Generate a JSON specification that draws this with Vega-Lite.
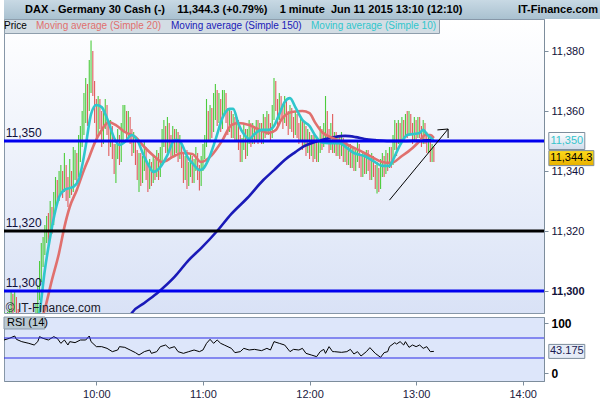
{
  "$schema": "https://vega.github.io/schema/vega-lite/v6.json",
  "description": "DAX 1-minute price bars with moving averages and RSI(14), 11 June 2015.",
  "padding": {"left": 2, "top": 0, "right": 0, "bottom": 0},
  "autosize": {"type": "pad"},
  "background": "#ffffff",
  "spacing": 0,
  "bounds": "flush",
  "config": {
    "font": "Liberation Sans",
    "view": {"stroke": "#8797a8"},
    "axis": {
      "labelFont": "Liberation Sans",
      "labelFontSize": 11,
      "labelColor": "#10103a",
      "tickColor": "#7d8d9c",
      "domainColor": "#7d8d9c",
      "grid": false,
      "title": null,
      "tickSize": 4
    }
  },
  "datasets": {
    "bars": [
      {"t":"09:08","o":11289,"h":11293,"l":11287,"c":11291},
      {"t":"09:09","o":11291,"h":11292,"l":11286,"c":11289},
      {"t":"09:10","o":11289,"h":11293,"l":11287,"c":11290},
      {"t":"09:11","o":11290,"h":11294,"l":11288,"c":11292},
      {"t":"09:12","o":11292,"h":11300,"l":11291,"c":11296},
      {"t":"09:13","o":11296,"h":11299,"l":11292,"c":11294},
      {"t":"09:14","o":11294,"h":11300,"l":11293,"c":11297},
      {"t":"09:15","o":11297,"h":11298,"l":11291,"c":11293},
      {"t":"09:16","o":11293,"h":11294,"l":11287,"c":11289},
      {"t":"09:17","o":11289,"h":11290,"l":11285,"c":11287},
      {"t":"09:18","o":11287,"h":11288,"l":11283,"c":11285},
      {"t":"09:19","o":11285,"h":11288,"l":11284,"c":11286},
      {"t":"09:20","o":11286,"h":11287,"l":11282,"c":11284},
      {"t":"09:21","o":11284,"h":11288,"l":11283,"c":11286},
      {"t":"09:22","o":11286,"h":11290,"l":11285,"c":11288},
      {"t":"09:23","o":11288,"h":11290,"l":11286,"c":11287},
      {"t":"09:24","o":11287,"h":11291,"l":11286,"c":11289},
      {"t":"09:25","o":11289,"h":11292,"l":11288,"c":11290},
      {"t":"09:26","o":11290,"h":11296,"l":11289,"c":11293},
      {"t":"09:27","o":11293,"h":11302,"l":11292,"c":11298},
      {"t":"09:28","o":11298,"h":11310,"l":11297,"c":11305},
      {"t":"09:29","o":11305,"h":11316,"l":11303,"c":11310},
      {"t":"09:30","o":11310,"h":11318,"l":11308,"c":11314},
      {"t":"09:31","o":11314,"h":11322,"l":11312,"c":11318},
      {"t":"09:32","o":11318,"h":11325,"l":11316,"c":11322},
      {"t":"09:33","o":11322,"h":11326,"l":11315,"c":11320},
      {"t":"09:34","o":11320,"h":11330,"l":11318,"c":11326},
      {"t":"09:35","o":11326,"h":11328,"l":11319,"c":11324},
      {"t":"09:36","o":11324,"h":11333,"l":11322,"c":11330},
      {"t":"09:37","o":11330,"h":11338,"l":11328,"c":11334},
      {"t":"09:38","o":11334,"h":11337,"l":11329,"c":11332},
      {"t":"09:39","o":11332,"h":11340,"l":11330,"c":11336},
      {"t":"09:40","o":11336,"h":11342,"l":11333,"c":11338},
      {"t":"09:41","o":11338,"h":11340,"l":11331,"c":11335},
      {"t":"09:42","o":11335,"h":11346,"l":11333,"c":11340},
      {"t":"09:43","o":11340,"h":11342,"l":11330,"c":11336},
      {"t":"09:44","o":11336,"h":11338,"l":11328,"c":11333},
      {"t":"09:45","o":11333,"h":11344,"l":11331,"c":11338},
      {"t":"09:46","o":11338,"h":11340,"l":11332,"c":11335},
      {"t":"09:47","o":11335,"h":11348,"l":11333,"c":11340},
      {"t":"09:48","o":11340,"h":11347,"l":11337,"c":11343},
      {"t":"09:49","o":11343,"h":11346,"l":11336,"c":11340},
      {"t":"09:50","o":11340,"h":11352,"l":11338,"c":11347},
      {"t":"09:51","o":11347,"h":11355,"l":11343,"c":11350},
      {"t":"09:52","o":11350,"h":11360,"l":11348,"c":11355},
      {"t":"09:53","o":11355,"h":11366,"l":11352,"c":11360},
      {"t":"09:54","o":11360,"h":11371,"l":11356,"c":11366},
      {"t":"09:55","o":11366,"h":11369,"l":11355,"c":11362},
      {"t":"09:56","o":11362,"h":11377,"l":11360,"c":11370},
      {"t":"09:57","o":11370,"h":11383.5,"l":11366,"c":11378},
      {"t":"09:58","o":11378,"h":11380,"l":11365,"c":11368},
      {"t":"09:59","o":11368,"h":11370,"l":11356,"c":11360},
      {"t":"10:00","o":11360,"h":11364,"l":11350,"c":11356},
      {"t":"10:01","o":11356,"h":11365,"l":11352,"c":11362},
      {"t":"10:02","o":11362,"h":11364,"l":11354,"c":11358},
      {"t":"10:03","o":11358,"h":11360,"l":11348,"c":11352},
      {"t":"10:04","o":11352,"h":11360,"l":11349,"c":11356},
      {"t":"10:05","o":11356,"h":11364,"l":11354,"c":11360},
      {"t":"10:06","o":11360,"h":11362,"l":11352,"c":11355},
      {"t":"10:07","o":11355,"h":11357,"l":11345,"c":11350},
      {"t":"10:08","o":11350,"h":11357,"l":11348,"c":11353},
      {"t":"10:09","o":11353,"h":11355,"l":11344,"c":11347},
      {"t":"10:10","o":11347,"h":11349,"l":11339,"c":11342},
      {"t":"10:11","o":11342,"h":11349,"l":11336,"c":11346},
      {"t":"10:12","o":11346,"h":11354,"l":11344,"c":11350},
      {"t":"10:13","o":11350,"h":11352,"l":11342,"c":11345},
      {"t":"10:14","o":11345,"h":11356,"l":11343,"c":11352},
      {"t":"10:15","o":11352,"h":11362,"l":11350,"c":11356},
      {"t":"10:16","o":11356,"h":11362,"l":11353,"c":11358},
      {"t":"10:17","o":11358,"h":11360,"l":11350,"c":11353},
      {"t":"10:18","o":11353,"h":11360,"l":11351,"c":11357},
      {"t":"10:19","o":11357,"h":11358,"l":11349,"c":11352},
      {"t":"10:20","o":11352,"h":11354,"l":11345,"c":11348},
      {"t":"10:21","o":11348,"h":11353,"l":11346,"c":11350},
      {"t":"10:22","o":11350,"h":11351,"l":11342,"c":11345},
      {"t":"10:23","o":11345,"h":11347,"l":11337,"c":11340},
      {"t":"10:24","o":11340,"h":11346,"l":11333,"c":11344},
      {"t":"10:25","o":11344,"h":11346,"l":11335,"c":11338},
      {"t":"10:26","o":11338,"h":11345,"l":11336,"c":11342},
      {"t":"10:27","o":11342,"h":11350,"l":11340,"c":11346},
      {"t":"10:28","o":11346,"h":11348,"l":11337,"c":11340},
      {"t":"10:29","o":11340,"h":11342,"l":11333,"c":11336},
      {"t":"10:30","o":11336,"h":11344,"l":11334,"c":11341},
      {"t":"10:31","o":11341,"h":11343,"l":11335,"c":11338},
      {"t":"10:32","o":11338,"h":11345,"l":11336,"c":11342},
      {"t":"10:33","o":11342,"h":11344,"l":11337,"c":11340},
      {"t":"10:34","o":11340,"h":11347,"l":11338,"c":11344},
      {"t":"10:35","o":11344,"h":11346,"l":11337,"c":11339},
      {"t":"10:36","o":11339,"h":11348,"l":11338,"c":11345},
      {"t":"10:37","o":11345,"h":11354,"l":11343,"c":11350},
      {"t":"10:38","o":11350,"h":11357,"l":11348,"c":11352},
      {"t":"10:39","o":11352,"h":11355,"l":11346,"c":11348},
      {"t":"10:40","o":11348,"h":11358,"l":11346,"c":11354},
      {"t":"10:41","o":11354,"h":11356,"l":11347,"c":11350},
      {"t":"10:42","o":11350,"h":11352,"l":11344,"c":11347},
      {"t":"10:43","o":11347,"h":11355,"l":11345,"c":11352},
      {"t":"10:44","o":11352,"h":11354,"l":11345,"c":11348},
      {"t":"10:45","o":11348,"h":11354,"l":11346,"c":11351},
      {"t":"10:46","o":11351,"h":11353,"l":11343,"c":11346},
      {"t":"10:47","o":11346,"h":11352,"l":11344,"c":11349},
      {"t":"10:48","o":11349,"h":11350,"l":11341,"c":11344},
      {"t":"10:49","o":11344,"h":11346,"l":11336,"c":11339},
      {"t":"10:50","o":11339,"h":11345,"l":11337,"c":11342},
      {"t":"10:51","o":11342,"h":11347,"l":11334,"c":11337},
      {"t":"10:52","o":11337,"h":11343,"l":11335,"c":11340},
      {"t":"10:53","o":11340,"h":11346,"l":11338,"c":11343},
      {"t":"10:54","o":11343,"h":11345,"l":11336,"c":11338},
      {"t":"10:55","o":11338,"h":11344,"l":11336,"c":11342},
      {"t":"10:56","o":11342,"h":11348,"l":11340,"c":11345},
      {"t":"10:57","o":11345,"h":11346,"l":11337,"c":11340},
      {"t":"10:58","o":11340,"h":11342,"l":11333.5,"c":11337},
      {"t":"10:59","o":11337,"h":11345,"l":11335,"c":11342},
      {"t":"11:00","o":11342,"h":11349,"l":11340,"c":11346},
      {"t":"11:01","o":11346,"h":11352,"l":11344,"c":11349},
      {"t":"11:02","o":11349,"h":11364,"l":11348,"c":11355},
      {"t":"11:03","o":11355,"h":11360,"l":11350,"c":11352},
      {"t":"11:04","o":11352,"h":11362,"l":11350,"c":11358},
      {"t":"11:05","o":11358,"h":11361,"l":11351,"c":11354},
      {"t":"11:06","o":11354,"h":11366,"l":11353,"c":11360},
      {"t":"11:07","o":11360,"h":11369,"l":11357,"c":11365},
      {"t":"11:08","o":11365,"h":11367,"l":11355,"c":11358},
      {"t":"11:09","o":11358,"h":11366,"l":11356,"c":11362},
      {"t":"11:10","o":11362,"h":11364,"l":11353,"c":11356},
      {"t":"11:11","o":11356,"h":11367,"l":11354,"c":11361},
      {"t":"11:12","o":11361,"h":11367,"l":11359,"c":11364},
      {"t":"11:13","o":11364,"h":11366,"l":11356,"c":11359},
      {"t":"11:14","o":11359,"h":11361,"l":11352,"c":11355},
      {"t":"11:15","o":11355,"h":11361,"l":11353,"c":11358},
      {"t":"11:16","o":11358,"h":11360,"l":11351,"c":11353},
      {"t":"11:17","o":11353,"h":11359,"l":11351,"c":11356},
      {"t":"11:18","o":11356,"h":11358,"l":11350,"c":11352},
      {"t":"11:19","o":11352,"h":11358,"l":11350,"c":11355},
      {"t":"11:20","o":11355,"h":11357,"l":11347,"c":11350},
      {"t":"11:21","o":11350,"h":11352,"l":11343,"c":11346},
      {"t":"11:22","o":11346,"h":11351,"l":11343,"c":11349},
      {"t":"11:23","o":11349,"h":11356,"l":11347,"c":11352},
      {"t":"11:24","o":11352,"h":11354,"l":11344,"c":11347},
      {"t":"11:25","o":11347,"h":11354,"l":11345,"c":11351},
      {"t":"11:26","o":11351,"h":11357,"l":11349,"c":11354},
      {"t":"11:27","o":11354,"h":11356,"l":11348,"c":11350},
      {"t":"11:28","o":11350,"h":11356,"l":11349,"c":11353},
      {"t":"11:29","o":11353,"h":11355,"l":11349,"c":11351},
      {"t":"11:30","o":11351,"h":11357,"l":11350,"c":11355},
      {"t":"11:31","o":11355,"h":11357,"l":11349,"c":11352},
      {"t":"11:32","o":11352,"h":11356,"l":11350,"c":11354},
      {"t":"11:33","o":11354,"h":11356,"l":11349,"c":11350},
      {"t":"11:34","o":11350,"h":11359,"l":11349,"c":11356},
      {"t":"11:35","o":11356,"h":11358,"l":11351,"c":11353},
      {"t":"11:36","o":11353,"h":11360,"l":11352,"c":11357},
      {"t":"11:37","o":11357,"h":11359,"l":11352,"c":11354},
      {"t":"11:38","o":11354,"h":11356,"l":11350,"c":11352},
      {"t":"11:39","o":11352,"h":11362,"l":11351,"c":11358},
      {"t":"11:40","o":11358,"h":11371,"l":11357,"c":11366},
      {"t":"11:41","o":11366,"h":11370,"l":11360,"c":11362},
      {"t":"11:42","o":11362,"h":11364,"l":11355,"c":11358},
      {"t":"11:43","o":11358,"h":11366,"l":11357,"c":11363},
      {"t":"11:44","o":11363,"h":11365,"l":11357,"c":11360},
      {"t":"11:45","o":11360,"h":11362,"l":11354,"c":11357},
      {"t":"11:46","o":11357,"h":11365,"l":11356,"c":11362},
      {"t":"11:47","o":11362,"h":11364,"l":11355,"c":11358},
      {"t":"11:48","o":11358,"h":11360,"l":11352,"c":11355},
      {"t":"11:49","o":11355,"h":11362,"l":11354,"c":11359},
      {"t":"11:50","o":11359,"h":11361,"l":11353,"c":11356},
      {"t":"11:51","o":11356,"h":11358,"l":11351,"c":11353},
      {"t":"11:52","o":11353,"h":11360,"l":11352,"c":11357},
      {"t":"11:53","o":11357,"h":11359,"l":11351,"c":11354},
      {"t":"11:54","o":11354,"h":11356,"l":11349,"c":11351},
      {"t":"11:55","o":11351,"h":11358,"l":11350,"c":11355},
      {"t":"11:56","o":11355,"h":11357,"l":11347,"c":11350},
      {"t":"11:57","o":11350,"h":11356,"l":11348,"c":11353},
      {"t":"11:58","o":11353,"h":11355,"l":11345,"c":11348},
      {"t":"11:59","o":11348,"h":11354,"l":11346,"c":11351},
      {"t":"12:00","o":11351,"h":11353,"l":11344,"c":11347},
      {"t":"12:01","o":11347,"h":11352,"l":11345,"c":11350},
      {"t":"12:02","o":11350,"h":11352,"l":11343,"c":11346},
      {"t":"12:03","o":11346,"h":11352,"l":11344,"c":11349},
      {"t":"12:04","o":11349,"h":11351,"l":11343,"c":11345},
      {"t":"12:05","o":11345,"h":11350,"l":11343,"c":11348},
      {"t":"12:06","o":11348,"h":11355,"l":11346,"c":11352},
      {"t":"12:07","o":11352,"h":11354,"l":11347,"c":11349},
      {"t":"12:08","o":11349,"h":11356,"l":11348,"c":11353},
      {"t":"12:09","o":11353,"h":11365,"l":11351,"c":11358},
      {"t":"12:10","o":11358,"h":11360,"l":11350,"c":11352},
      {"t":"12:11","o":11352,"h":11354,"l":11346,"c":11349},
      {"t":"12:12","o":11349,"h":11356,"l":11347,"c":11353},
      {"t":"12:13","o":11353,"h":11359,"l":11346,"c":11348},
      {"t":"12:14","o":11348,"h":11353,"l":11346,"c":11351},
      {"t":"12:15","o":11351,"h":11353,"l":11345,"c":11347},
      {"t":"12:16","o":11347,"h":11352,"l":11345,"c":11350},
      {"t":"12:17","o":11350,"h":11352,"l":11344,"c":11346},
      {"t":"12:18","o":11346,"h":11353,"l":11345,"c":11349},
      {"t":"12:19","o":11349,"h":11351,"l":11343,"c":11345},
      {"t":"12:20","o":11345,"h":11350,"l":11343,"c":11348},
      {"t":"12:21","o":11348,"h":11350,"l":11342,"c":11344},
      {"t":"12:22","o":11344,"h":11349,"l":11342,"c":11347},
      {"t":"12:23","o":11347,"h":11349,"l":11341,"c":11343},
      {"t":"12:24","o":11343,"h":11348,"l":11341,"c":11346},
      {"t":"12:25","o":11346,"h":11348,"l":11340,"c":11342},
      {"t":"12:26","o":11342,"h":11347,"l":11340,"c":11345},
      {"t":"12:27","o":11345,"h":11350,"l":11343,"c":11347},
      {"t":"12:28","o":11347,"h":11349,"l":11341,"c":11343},
      {"t":"12:29","o":11343,"h":11345,"l":11338,"c":11340},
      {"t":"12:30","o":11340,"h":11346,"l":11338,"c":11344},
      {"t":"12:31","o":11344,"h":11346,"l":11339,"c":11341},
      {"t":"12:32","o":11341,"h":11347,"l":11339,"c":11345},
      {"t":"12:33","o":11345,"h":11347,"l":11340,"c":11342},
      {"t":"12:34","o":11342,"h":11344,"l":11337,"c":11339},
      {"t":"12:35","o":11339,"h":11346,"l":11337,"c":11343},
      {"t":"12:36","o":11343,"h":11345,"l":11338,"c":11340},
      {"t":"12:37","o":11340,"h":11342,"l":11334,"c":11336},
      {"t":"12:38","o":11336,"h":11343,"l":11332.5,"c":11339},
      {"t":"12:39","o":11339,"h":11341,"l":11333,"c":11335},
      {"t":"12:40","o":11335,"h":11344,"l":11334,"c":11340},
      {"t":"12:41","o":11340,"h":11346,"l":11338,"c":11343},
      {"t":"12:42","o":11343,"h":11345,"l":11338,"c":11340},
      {"t":"12:43","o":11340,"h":11347,"l":11339,"c":11344},
      {"t":"12:44","o":11344,"h":11346,"l":11340,"c":11342},
      {"t":"12:45","o":11342,"h":11348,"l":11341,"c":11346},
      {"t":"12:46","o":11346,"h":11348,"l":11341,"c":11343},
      {"t":"12:47","o":11343,"h":11352,"l":11342,"c":11349},
      {"t":"12:48","o":11349,"h":11357,"l":11347,"c":11353},
      {"t":"12:49","o":11353,"h":11356,"l":11345,"c":11350},
      {"t":"12:50","o":11350,"h":11357,"l":11349,"c":11354},
      {"t":"12:51","o":11354,"h":11356,"l":11349,"c":11351},
      {"t":"12:52","o":11351,"h":11358,"l":11350,"c":11355},
      {"t":"12:53","o":11355,"h":11357,"l":11350,"c":11352},
      {"t":"12:54","o":11352,"h":11359,"l":11351,"c":11356},
      {"t":"12:55","o":11356,"h":11360,"l":11351,"c":11353},
      {"t":"12:56","o":11353,"h":11360,"l":11352,"c":11357},
      {"t":"12:57","o":11357,"h":11359,"l":11352,"c":11354},
      {"t":"12:58","o":11354,"h":11356,"l":11349,"c":11351},
      {"t":"12:59","o":11351,"h":11358,"l":11350,"c":11355},
      {"t":"13:00","o":11355,"h":11357,"l":11350,"c":11352},
      {"t":"13:01","o":11352,"h":11358,"l":11351,"c":11356},
      {"t":"13:02","o":11356,"h":11358,"l":11351,"c":11353},
      {"t":"13:03","o":11353,"h":11355,"l":11348,"c":11350},
      {"t":"13:04","o":11350,"h":11357,"l":11349,"c":11354},
      {"t":"13:05","o":11354,"h":11356,"l":11349,"c":11351},
      {"t":"13:06","o":11351,"h":11353,"l":11346,"c":11348},
      {"t":"13:07","o":11348,"h":11352,"l":11346,"c":11350},
      {"t":"13:08","o":11350,"h":11351,"l":11343,"c":11346},
      {"t":"13:09","o":11346,"h":11349,"l":11343,"c":11347},
      {"t":"13:10","o":11347,"h":11348,"l":11343,"c":11344.3}
    ],
    "ma": [
      {"s":"ma150","t":"10:18","v":11290},
      {"s":"ma150","t":"10:20","v":11292.7},
      {"s":"ma150","t":"10:27","v":11296},
      {"s":"ma150","t":"10:35","v":11299.7},
      {"s":"ma150","t":"10:44","v":11304.7},
      {"s":"ma150","t":"10:52","v":11310.3},
      {"s":"ma150","t":"10:59","v":11314.3},
      {"s":"ma150","t":"11:08","v":11320},
      {"s":"ma150","t":"11:16","v":11325.7},
      {"s":"ma150","t":"11:25","v":11331},
      {"s":"ma150","t":"11:34","v":11337},
      {"s":"ma150","t":"11:40","v":11340.3},
      {"s":"ma150","t":"11:46","v":11343.7},
      {"s":"ma150","t":"11:52","v":11346.3},
      {"s":"ma150","t":"11:57","v":11348.3},
      {"s":"ma150","t":"12:03","v":11349.7},
      {"s":"ma150","t":"12:09","v":11350.7},
      {"s":"ma150","t":"12:14","v":11351.3},
      {"s":"ma150","t":"12:20","v":11351.7},
      {"s":"ma150","t":"12:26","v":11351.3},
      {"s":"ma150","t":"12:31","v":11350.7},
      {"s":"ma150","t":"12:37","v":11350.3},
      {"s":"ma150","t":"12:45","v":11350},
      {"s":"ma150","t":"12:52","v":11350},
      {"s":"ma150","t":"13:00","v":11350.1},
      {"s":"ma150","t":"13:10","v":11350.3},
      {"s":"ma20","t":"09:29","v":11290},
      {"s":"ma20","t":"09:31","v":11294},
      {"s":"ma20","t":"09:35","v":11303.7},
      {"s":"ma20","t":"09:39","v":11312.7},
      {"s":"ma20","t":"09:42","v":11321.3},
      {"s":"ma20","t":"09:45","v":11328},
      {"s":"ma20","t":"09:49","v":11333.7},
      {"s":"ma20","t":"09:53","v":11340.3},
      {"s":"ma20","t":"09:56","v":11344.7},
      {"s":"ma20","t":"09:59","v":11349.3},
      {"s":"ma20","t":"10:03","v":11353.7},
      {"s":"ma20","t":"10:07","v":11356.3},
      {"s":"ma20","t":"10:11","v":11355.3},
      {"s":"ma20","t":"10:16","v":11353},
      {"s":"ma20","t":"10:22","v":11351.3},
      {"s":"ma20","t":"10:27","v":11348},
      {"s":"ma20","t":"10:33","v":11344.7},
      {"s":"ma20","t":"10:37","v":11343},
      {"s":"ma20","t":"10:43","v":11344.7},
      {"s":"ma20","t":"10:48","v":11346},
      {"s":"ma20","t":"10:54","v":11345.7},
      {"s":"ma20","t":"10:59","v":11343},
      {"s":"ma20","t":"11:05","v":11345.3},
      {"s":"ma20","t":"11:11","v":11350.3},
      {"s":"ma20","t":"11:16","v":11355.3},
      {"s":"ma20","t":"11:20","v":11356},
      {"s":"ma20","t":"11:26","v":11355.3},
      {"s":"ma20","t":"11:32","v":11353.7},
      {"s":"ma20","t":"11:37","v":11352.7},
      {"s":"ma20","t":"11:41","v":11353.7},
      {"s":"ma20","t":"11:44","v":11357},
      {"s":"ma20","t":"11:50","v":11359.7},
      {"s":"ma20","t":"11:56","v":11360},
      {"s":"ma20","t":"12:00","v":11359.3},
      {"s":"ma20","t":"12:03","v":11356.3},
      {"s":"ma20","t":"12:07","v":11353},
      {"s":"ma20","t":"12:13","v":11351},
      {"s":"ma20","t":"12:18","v":11349.7},
      {"s":"ma20","t":"12:24","v":11348},
      {"s":"ma20","t":"12:30","v":11346.3},
      {"s":"ma20","t":"12:35","v":11344.7},
      {"s":"ma20","t":"12:41","v":11343},
      {"s":"ma20","t":"12:46","v":11342.7},
      {"s":"ma20","t":"12:52","v":11345},
      {"s":"ma20","t":"12:58","v":11347.7},
      {"s":"ma20","t":"13:02","v":11350},
      {"s":"ma20","t":"13:05","v":11352},
      {"s":"ma20","t":"13:08","v":11352},
      {"s":"ma20","t":"13:10","v":11351},
      {"s":"ma10","t":"09:26","v":11289},
      {"s":"ma10","t":"09:28","v":11293},
      {"s":"ma10","t":"09:31","v":11307},
      {"s":"ma10","t":"09:34","v":11318},
      {"s":"ma10","t":"09:37","v":11327},
      {"s":"ma10","t":"09:39","v":11331.3},
      {"s":"ma10","t":"09:42","v":11333.7},
      {"s":"ma10","t":"09:45","v":11334.3},
      {"s":"ma10","t":"09:47","v":11334.7},
      {"s":"ma10","t":"09:50","v":11337},
      {"s":"ma10","t":"09:54","v":11348.3},
      {"s":"ma10","t":"09:56","v":11356},
      {"s":"ma10","t":"09:57","v":11359},
      {"s":"ma10","t":"10:00","v":11362},
      {"s":"ma10","t":"10:03","v":11361.3},
      {"s":"ma10","t":"10:05","v":11359},
      {"s":"ma10","t":"10:07","v":11356},
      {"s":"ma10","t":"10:10","v":11351},
      {"s":"ma10","t":"10:13","v":11348.7},
      {"s":"ma10","t":"10:16","v":11349.7},
      {"s":"ma10","t":"10:20","v":11352},
      {"s":"ma10","t":"10:23","v":11350.3},
      {"s":"ma10","t":"10:27","v":11344.7},
      {"s":"ma10","t":"10:30","v":11341.3},
      {"s":"ma10","t":"10:32","v":11339.7},
      {"s":"ma10","t":"10:36","v":11341.3},
      {"s":"ma10","t":"10:40","v":11345.3},
      {"s":"ma10","t":"10:44","v":11350.3},
      {"s":"ma10","t":"10:46","v":11350.3},
      {"s":"ma10","t":"10:48","v":11349},
      {"s":"ma10","t":"10:51","v":11345},
      {"s":"ma10","t":"10:55","v":11342},
      {"s":"ma10","t":"10:58","v":11340.3},
      {"s":"ma10","t":"11:00","v":11340.7},
      {"s":"ma10","t":"11:03","v":11343.7},
      {"s":"ma10","t":"11:07","v":11350.3},
      {"s":"ma10","t":"11:11","v":11357.7},
      {"s":"ma10","t":"11:15","v":11360.7},
      {"s":"ma10","t":"11:17","v":11360.7},
      {"s":"ma10","t":"11:20","v":11355.7},
      {"s":"ma10","t":"11:23","v":11352.3},
      {"s":"ma10","t":"11:26","v":11350.7},
      {"s":"ma10","t":"11:29","v":11352.3},
      {"s":"ma10","t":"11:33","v":11353.7},
      {"s":"ma10","t":"11:37","v":11353.7},
      {"s":"ma10","t":"11:40","v":11355},
      {"s":"ma10","t":"11:43","v":11359},
      {"s":"ma10","t":"11:46","v":11363},
      {"s":"ma10","t":"11:49","v":11364.3},
      {"s":"ma10","t":"11:52","v":11361.3},
      {"s":"ma10","t":"11:56","v":11357},
      {"s":"ma10","t":"12:00","v":11355},
      {"s":"ma10","t":"12:03","v":11352},
      {"s":"ma10","t":"12:07","v":11349.5},
      {"s":"ma10","t":"12:11","v":11349.3},
      {"s":"ma10","t":"12:17","v":11349.3},
      {"s":"ma10","t":"12:21","v":11347.7},
      {"s":"ma10","t":"12:25","v":11346},
      {"s":"ma10","t":"12:31","v":11345},
      {"s":"ma10","t":"12:36","v":11343.3},
      {"s":"ma10","t":"12:41","v":11341.7},
      {"s":"ma10","t":"12:45","v":11341.7},
      {"s":"ma10","t":"12:46","v":11342.5},
      {"s":"ma10","t":"12:49","v":11346.3},
      {"s":"ma10","t":"12:52","v":11349.7},
      {"s":"ma10","t":"12:55","v":11352},
      {"s":"ma10","t":"12:58","v":11352.3},
      {"s":"ma10","t":"13:02","v":11352.7},
      {"s":"ma10","t":"13:04","v":11353.7},
      {"s":"ma10","t":"13:06","v":11352.3},
      {"s":"ma10","t":"13:09","v":11350.7},
      {"s":"ma10","t":"13:10","v":11350}
    ],
    "rsi": [
      {"t":"09:08","r":66},{"t":"09:11","r":69.3},{"t":"09:14","r":74},{"t":"09:15","r":67.3},
      {"t":"09:18","r":62.7},{"t":"09:22","r":59.3},{"t":"09:25","r":56},{"t":"09:27","r":62.7},
      {"t":"09:28","r":72.7},{"t":"09:30","r":69.3},{"t":"09:33","r":66},{"t":"09:36","r":72.7},
      {"t":"09:38","r":69.3},{"t":"09:40","r":59.3},{"t":"09:42","r":66},{"t":"09:44","r":56},
      {"t":"09:45","r":62.7},{"t":"09:48","r":60.7},{"t":"09:51","r":66},{"t":"09:54","r":66},
      {"t":"09:56","r":74},{"t":"09:57","r":62.7},{"t":"10:00","r":52.7},{"t":"10:03","r":52.7},
      {"t":"10:06","r":49.3},{"t":"10:09","r":42.7},{"t":"10:12","r":46},{"t":"10:13","r":52.7},
      {"t":"10:16","r":51.3},{"t":"10:19","r":46},{"t":"10:22","r":40.7},{"t":"10:24","r":36},
      {"t":"10:27","r":42.7},{"t":"10:30","r":46},{"t":"10:31","r":39.3},{"t":"10:34","r":42.7},
      {"t":"10:36","r":52.7},{"t":"10:39","r":56},{"t":"10:41","r":49.3},{"t":"10:44","r":52.7},
      {"t":"10:46","r":42.7},{"t":"10:49","r":39.3},{"t":"10:52","r":42.7},{"t":"10:55","r":46},
      {"t":"10:58","r":42.7},{"t":"11:00","r":46},{"t":"11:02","r":59.3},{"t":"11:04","r":67.3},
      {"t":"11:06","r":59.3},{"t":"11:08","r":66},{"t":"11:10","r":59.3},{"t":"11:12","r":56},
      {"t":"11:16","r":49.3},{"t":"11:18","r":40.7},{"t":"11:21","r":42.7},{"t":"11:23","r":49.3},
      {"t":"11:26","r":46},{"t":"11:29","r":47.3},{"t":"11:33","r":44.7},{"t":"11:36","r":49.3},
      {"t":"11:38","r":46},{"t":"11:40","r":62.7},{"t":"11:43","r":59.3},{"t":"11:46","r":56},
      {"t":"11:49","r":42.7},{"t":"11:51","r":47.3},{"t":"11:54","r":46},{"t":"11:56","r":49.3},
      {"t":"11:58","r":39.3},{"t":"12:01","r":36},{"t":"12:04","r":32.7},{"t":"12:06","r":42.7},
      {"t":"12:08","r":47.3},{"t":"12:09","r":39.3},{"t":"12:11","r":52.7},{"t":"12:13","r":42.7},
      {"t":"12:14","r":42.7},{"t":"12:18","r":41.3},{"t":"12:21","r":42.7},{"t":"12:23","r":47.3},
      {"t":"12:25","r":38},{"t":"12:27","r":42.7},{"t":"12:29","r":34},{"t":"12:32","r":42.7},
      {"t":"12:34","r":50.7},{"t":"12:37","r":39.3},{"t":"12:40","r":31.3},{"t":"12:42","r":40.7},
      {"t":"12:44","r":42.7},{"t":"12:45","r":52.7},{"t":"12:48","r":60.7},{"t":"12:49","r":58},
      {"t":"12:51","r":62.7},{"t":"12:53","r":56},{"t":"12:54","r":62.7},{"t":"12:56","r":51.3},
      {"t":"12:58","r":56},{"t":"13:00","r":52.7},{"t":"13:02","r":56},{"t":"13:04","r":49.3},
      {"t":"13:06","r":52.7},{"t":"13:08","r":42.7},{"t":"13:10","r":43.2}
    ],
    "levels": [{"p":11350},{"p":11320},{"p":11300}],
    "arrow": [
      {"seg":"shaft","t":"12:45","p":11330.3},
      {"seg":"shaft","t":"13:18","p":11354},
      {"seg":"headTop","t":"13:12","p":11353.7},
      {"seg":"headTop","t":"13:18","p":11354},
      {"seg":"headSide","t":"13:18","p":11354},
      {"seg":"headSide","t":"13:18","p":11351}
    ],
    "tags": [
      {"s":"ma10","v":11350,"label":"11,350"},
      {"s":"price","v":11344.3,"label":"11,344.3"}
    ]
  },
  "vconcat": [
    {
      "width": 600,
      "height": 19,
      "view": {
        "fill": {"gradient": "linear", "x1": 0, "y1": 0, "x2": 0, "y2": 1,
          "stops": [{"offset": 0, "color": "#c8d9e4"}, {"offset": 1, "color": "#a9c1d0"}]},
        "stroke": null
      },
      "data": {"values": [{"quote": "DAX - Germany 30 Cash (-)\u00a0\u00a0\u00a0\u00a011,344.3 (+0.79%)\u00a0\u00a0\u00a0\u00a01 minute\u00a0\u00a0Jun 11 2015 13:10 (12:10)", "site": "IT-Finance.com"}]},
      "layer": [
        {
          "mark": {"type": "text", "align": "left", "baseline": "middle", "x": 21, "y": 10, "font": "Liberation Sans", "fontSize": 11, "fontWeight": "bold", "color": "#000000"},
          "encoding": {"text": {"field": "quote"}}
        },
        {
          "mark": {"type": "text", "align": "right", "baseline": "middle", "x": 594, "y": 10, "font": "Liberation Sans", "fontSize": 11, "fontWeight": "bold", "color": "#000000"},
          "encoding": {"text": {"field": "site"}}
        }
      ]
    },
    {
      "spacing": 4,
      "bounds": "flush",
      "resolve": {"scale": {"x": "independent", "y": "independent"}},
      "vconcat": [
        {
          "width": 540,
          "height": 294,
          "view": {
            "fill": {"gradient": "linear", "x1": 0, "y1": 0, "x2": 0, "y2": 1,
              "stops": [{"offset": 0, "color": "#ffffff"}, {"offset": 1, "color": "#d9e2f6"}]},
            "stroke": "#8797a8"
          },
          "layer": [
            {
              "data": {"name": "bars", "format": {"parse": {"t": "date:'%H:%M'"}}},
              "mark": {"type": "rule", "strokeWidth": 1.1, "clip": true},
              "encoding": {
                "x": {
                  "field": "t", "type": "temporal",
                  "scale": {"domain": [
                    {"year": 1900, "month": 1, "date": 1, "hours": 9, "minutes": 8},
                    {"year": 1900, "month": 1, "date": 1, "hours": 14, "minutes": 12}
                  ]},
                  "axis": null
                },
                "y": {
                  "field": "l", "type": "quantitative",
                  "scale": {"domain": [11292.67, 11390.67], "nice": false, "zero": false},
                  "axis": {
                    "orient": "right",
                    "values": [11300, 11310, 11320, 11330, 11340, 11350, 11360, 11370, 11380],
                    "format": ",d",
                    "labelPadding": 3,
                    "labelFontWeight": {"condition": {"test": "datum.value == 11300", "value": "bold"}, "value": "normal"}
                  }
                },
                "y2": {"field": "h"},
                "color": {"condition": {"test": "datum.c >= datum.o", "value": "#4ccc3c"}, "value": "#e05c5c"}
              }
            },
            {
              "data": {"name": "ma", "format": {"parse": {"t": "date:'%H:%M'"}}},
              "mark": {"type": "line", "strokeWidth": 2.6, "interpolate": "monotone", "clip": true},
              "encoding": {
                "x": {"field": "t", "type": "temporal"},
                "y": {"field": "v", "type": "quantitative"},
                "color": {
                  "field": "s", "type": "nominal",
                  "scale": {"domain": ["price", "ma20", "ma150", "ma10"], "range": ["#000000", "#e0706e", "#1a1ab8", "#30c6cc"]},
                  "legend": {
                    "orient": "none",
                    "legendX": 0,
                    "legendY": 19,
                    "direction": "horizontal",
                    "columns": 4,
                    "title": null,
                    "fillColor": "#d3dde4",
                    "strokeColor": "#8e9eac",
                    "padding": 2,
                    "symbolSize": 0,
                    "symbolStrokeWidth": 0,
                    "symbolOpacity": 0,
                    "labelOffset": -12,
                    "columnPadding": 9,
                    "labelFont": "Liberation Sans",
                    "labelFontSize": 10,
                    "labelLimit": 300,
                    "labelExpr": "datum.label == 'price' ? 'Price' : 'Moving average (Simple ' + slice(datum.label, 2) + ')'",
                    "encode": {"labels": {"update": {"fill": {"scale": "color", "field": "value"}}}}
                  }
                }
              }
            },
            {
              "data": {"name": "levels"},
              "transform": [{"filter": "datum.p != 11320"}],
              "mark": {"type": "rule", "color": "#0000ee", "strokeWidth": 3},
              "encoding": {"y": {"field": "p", "type": "quantitative"}}
            },
            {
              "data": {"name": "levels"},
              "transform": [{"filter": "datum.p == 11320"}],
              "mark": {"type": "rule", "color": "#000000", "strokeWidth": 3},
              "encoding": {"y": {"field": "p", "type": "quantitative"}}
            },
            {
              "data": {"name": "levels"},
              "mark": {"type": "text", "align": "left", "baseline": "bottom", "dy": -1, "fontSize": 12, "color": "#10103a"},
              "encoding": {
                "x": {"datum": {"year": 1900, "month": 1, "date": 1, "hours": 9, "minutes": 9}, "type": "temporal"},
                "y": {"field": "p", "type": "quantitative"},
                "text": {"field": "p", "type": "quantitative", "format": ",d"}
              }
            },
            {
              "data": {"name": "arrow", "format": {"parse": {"t": "date:'%H:%M'"}}},
              "mark": {"type": "line", "color": "#000000", "strokeWidth": 1, "clip": true},
              "encoding": {
                "x": {"field": "t", "type": "temporal"},
                "y": {"field": "p", "type": "quantitative"},
                "detail": {"field": "seg"}
              }
            },
            {
              "data": {"values": [{"note": "\u00a9 IT-Finance.com"}]},
              "mark": {"type": "text", "align": "left", "baseline": "middle", "fontSize": 12, "color": "#1a1a2a"},
              "encoding": {
                "x": {"datum": {"year": 1900, "month": 1, "date": 1, "hours": 9, "minutes": 9}, "type": "temporal"},
                "y": {"datum": 11294.5},
                "text": {"field": "note"}
              }
            },
            {
              "data": {"name": "tags"},
              "transform": [{"filter": "datum.s == 'ma10'"}],
              "mark": {"type": "rect", "width": 36, "height": 17, "clip": false, "stroke": "#7d8d9c", "strokeWidth": 1,
                "fill": {"gradient": "linear", "x1": 0, "y1": 0, "x2": 0, "y2": 1,
                  "stops": [{"offset": 0, "color": "#ffffff"}, {"offset": 1, "color": "#cfdceb"}]}},
              "encoding": {
                "x": {"datum": {"year": 1900, "month": 1, "date": 1, "hours": 14, "minutes": 24, "seconds": 50}, "type": "temporal"},
                "y": {"field": "v", "type": "quantitative"}
              }
            },
            {
              "data": {"name": "tags"},
              "transform": [{"filter": "datum.s == 'ma10'"}],
              "mark": {"type": "text", "align": "center", "baseline": "middle", "clip": false, "fontSize": 11, "color": "#34c4cc"},
              "encoding": {
                "x": {"datum": {"year": 1900, "month": 1, "date": 1, "hours": 14, "minutes": 24, "seconds": 50}, "type": "temporal"},
                "y": {"field": "v", "type": "quantitative"},
                "text": {"field": "label"}
              }
            },
            {
              "data": {"name": "tags"},
              "transform": [{"filter": "datum.s == 'price'"}],
              "mark": {"type": "rect", "width": 45, "height": 15, "clip": false, "stroke": "#7d8d9c", "strokeWidth": 1,
                "fill": {"gradient": "linear", "x1": 0, "y1": 0, "x2": 0, "y2": 1,
                  "stops": [{"offset": 0, "color": "#ffdc1a"}, {"offset": 1, "color": "#e8b000"}]}},
              "encoding": {
                "x": {"datum": {"year": 1900, "month": 1, "date": 1, "hours": 14, "minutes": 27, "seconds": 24}, "type": "temporal"},
                "y": {"field": "v", "type": "quantitative"}
              }
            },
            {
              "data": {"name": "tags"},
              "transform": [{"filter": "datum.s == 'price'"}],
              "mark": {"type": "text", "align": "center", "baseline": "middle", "clip": false, "fontSize": 11, "color": "#000000"},
              "encoding": {
                "x": {"datum": {"year": 1900, "month": 1, "date": 1, "hours": 14, "minutes": 27, "seconds": 24}, "type": "temporal"},
                "y": {"field": "v", "type": "quantitative"},
                "text": {"field": "label"}
              }
            }
          ]
        },
        {
          "width": 540,
          "height": 64,
          "view": {"fill": "#dde6fa", "stroke": "#8797a8"},
          "layer": [
            {
              "data": {"name": "rsi", "format": {"parse": {"t": "date:'%H:%M'"}}},
              "mark": {"type": "line", "color": "#000000", "strokeWidth": 1, "clip": true},
              "encoding": {
                "x": {
                  "field": "t", "type": "temporal",
                  "scale": {"domain": [
                    {"year": 1900, "month": 1, "date": 1, "hours": 9, "minutes": 8},
                    {"year": 1900, "month": 1, "date": 1, "hours": 14, "minutes": 12}
                  ]},
                  "axis": {
                    "values": [
                      {"year": 1900, "month": 1, "date": 1, "hours": 10, "minutes": 0},
                      {"year": 1900, "month": 1, "date": 1, "hours": 11, "minutes": 0},
                      {"year": 1900, "month": 1, "date": 1, "hours": 12, "minutes": 0},
                      {"year": 1900, "month": 1, "date": 1, "hours": 13, "minutes": 0},
                      {"year": 1900, "month": 1, "date": 1, "hours": 14, "minutes": 0}
                    ],
                    "format": "%H:%M",
                    "labelPadding": 3,
                    "labelColor": "#202040"
                  }
                },
                "y": {
                  "field": "r", "type": "quantitative",
                  "scale": {"domain": [-16, 112], "nice": false, "zero": false},
                  "axis": {"orient": "right", "values": [0, 100], "labelFontWeight": "bold", "labelFontSize": 12, "labelColor": "#000000", "labelPadding": 3}
                }
              }
            },
            {
              "data": {"values": [{"r": 70}, {"r": 30}]},
              "mark": {"type": "rule", "color": "#2a2ae6", "strokeWidth": 1},
              "encoding": {"y": {"field": "r", "type": "quantitative"}}
            },
            {
              "data": {"values": [{"label": "RSI (14)"}]},
              "mark": {"type": "rect", "fill": "#b9c9d3", "stroke": "#8797a8", "strokeWidth": 1},
              "encoding": {
                "x": {"datum": {"year": 1900, "month": 1, "date": 1, "hours": 9, "minutes": 8}, "type": "temporal"},
                "x2": {"datum": {"year": 1900, "month": 1, "date": 1, "hours": 9, "minutes": 31}},
                "y": {"datum": 112},
                "y2": {"datum": 88}
              }
            },
            {
              "data": {"values": [{"label": "RSI (14)"}]},
              "mark": {"type": "text", "align": "left", "baseline": "middle", "fontSize": 11, "color": "#000000"},
              "encoding": {
                "x": {"datum": {"year": 1900, "month": 1, "date": 1, "hours": 9, "minutes": 9, "seconds": 40}, "type": "temporal"},
                "y": {"datum": 100},
                "text": {"field": "label"}
              }
            },
            {
              "data": {"values": [{"v": 43.175, "label": "43.175"}]},
              "mark": {"type": "rect", "width": 36, "height": 14, "clip": false, "fill": "#e6ecf7", "stroke": "#7d8d9c", "strokeWidth": 1},
              "encoding": {
                "x": {"datum": {"year": 1900, "month": 1, "date": 1, "hours": 14, "minutes": 24, "seconds": 50}, "type": "temporal"},
                "y": {"field": "v", "type": "quantitative"}
              }
            },
            {
              "data": {"values": [{"v": 43.175, "label": "43.175"}]},
              "mark": {"type": "text", "align": "center", "baseline": "middle", "clip": false, "fontSize": 11, "color": "#1a1a50"},
              "encoding": {
                "x": {"datum": {"year": 1900, "month": 1, "date": 1, "hours": 14, "minutes": 24, "seconds": 50}, "type": "temporal"},
                "y": {"field": "v", "type": "quantitative"},
                "text": {"field": "label"}
              }
            }
          ]
        }
      ]
    }
  ]
}
